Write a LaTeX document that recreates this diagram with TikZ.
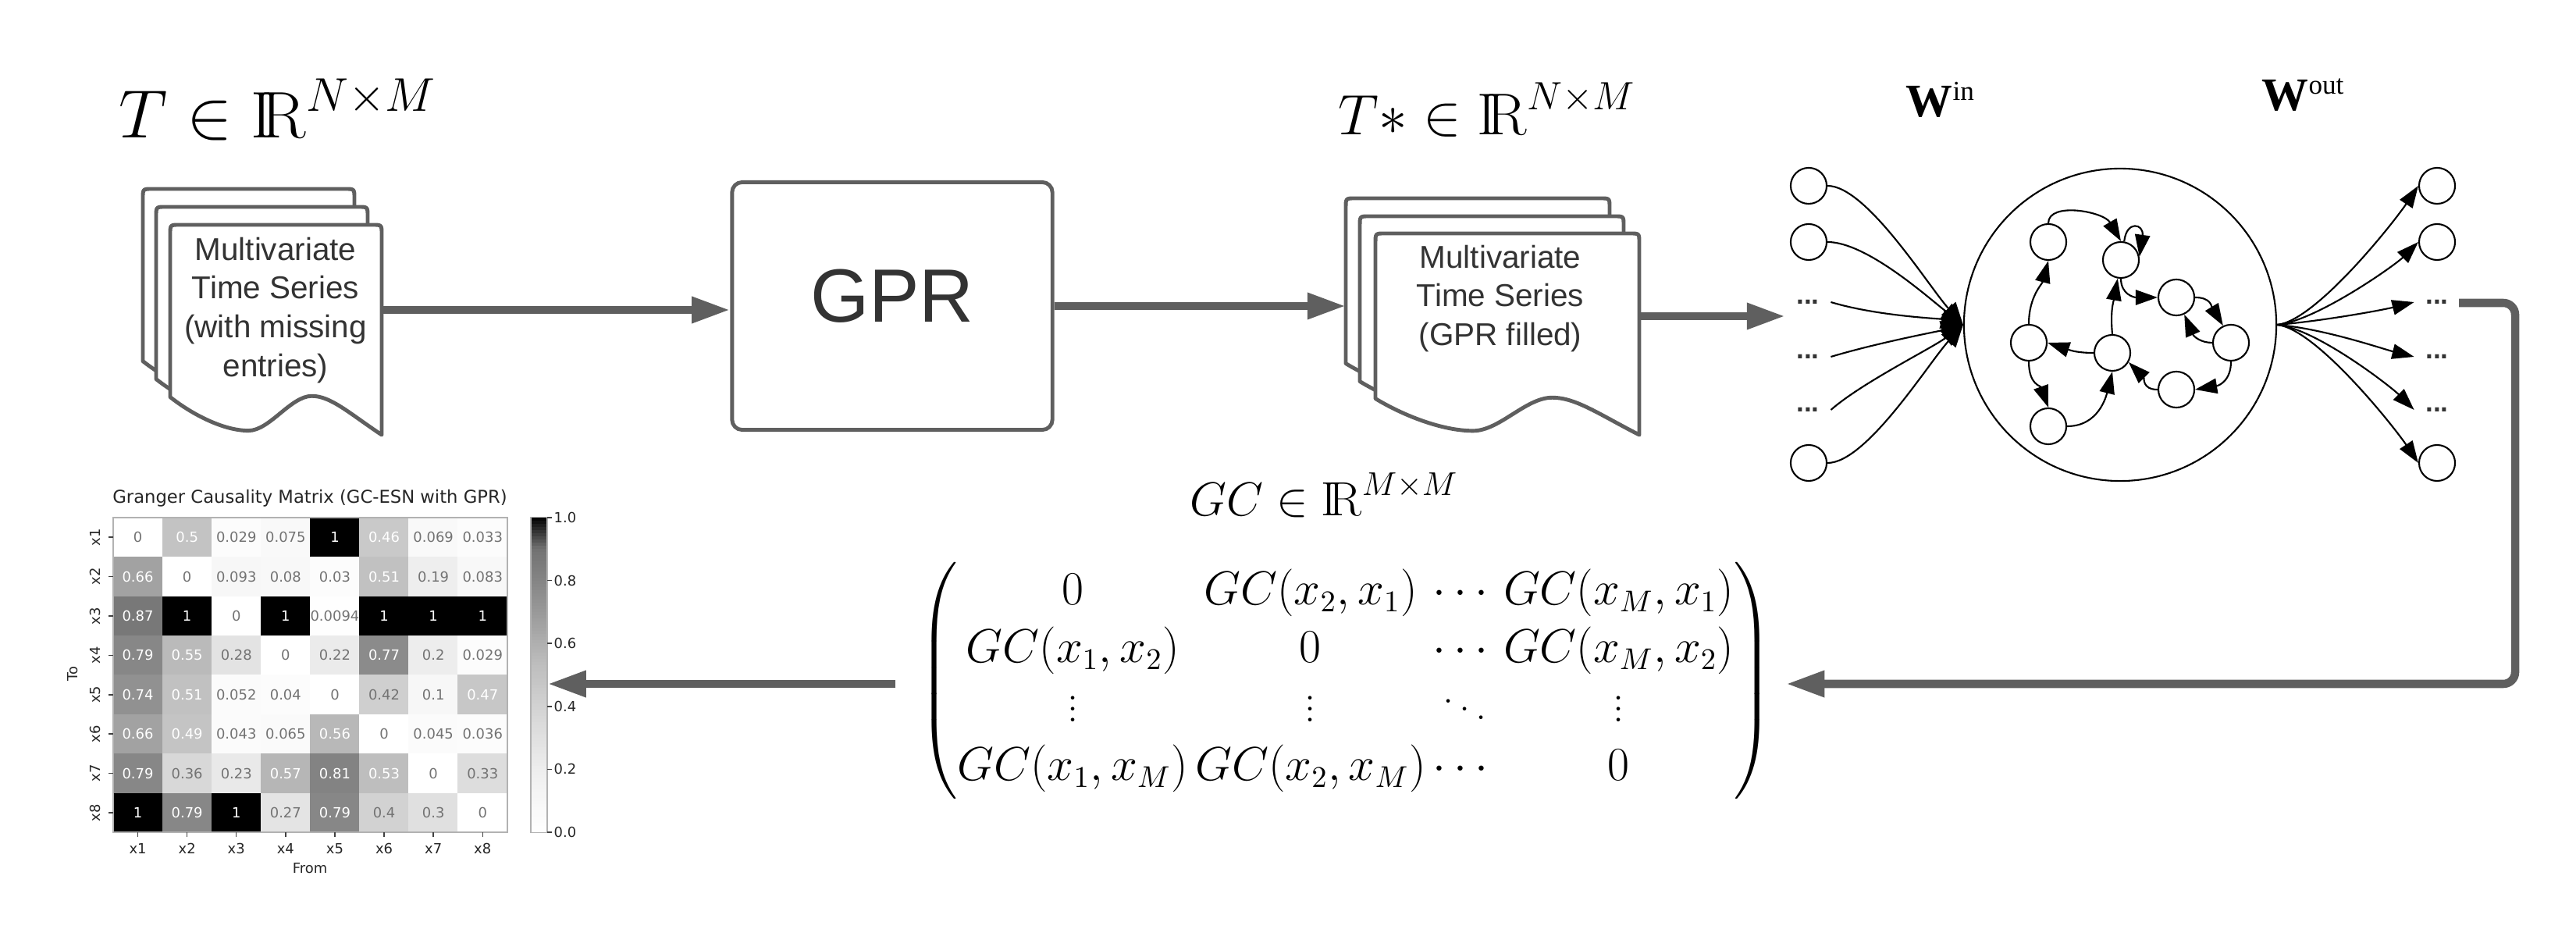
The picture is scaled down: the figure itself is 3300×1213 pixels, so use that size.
\documentclass[tikz,border=0pt]{standalone}
\usepackage{amsmath,amssymb}
\usepackage{fontspec}
\newfontfamily\arialf{Liberation Sans}
\newfontfamily\timesf{Liberation Serif}
\newfontfamily\hmfont{DejaVu Sans}
\usetikzlibrary{arrows.meta}
\definecolor{gline}{HTML}{5F5F5F}
\definecolor{gtext}{HTML}{333333}
\newcommand\IRR{\mathrm{I\!R}}
\newcommand\docpage[4]{%
 \filldraw[docline] (#1,#2+0.82*#4) -- (#1,#2+12) .. controls (#1,#2) .. (#1+12,#2)
  -- (#1+#3-12,#2) .. controls (#1+#3,#2) .. (#1+#3,#2+12) -- (#1+#3,#2+#4)
  .. controls (#1+0.85*#3,#2+0.9*#4) and (#1+0.76*#3,#2+0.815*#4) .. (#1+0.67*#3,#2+0.815*#4)
  .. controls (#1+0.57*#3,#2+0.815*#4) and (#1+0.47*#3,#2+0.98*#4) .. (#1+0.37*#3,#2+0.98*#4)
  .. controls (#1+0.25*#3,#2+0.98*#4) and (#1+0.1*#3,#2+0.9*#4) .. cycle;}
\newcommand\hmdark[1]{%
 \pgfmathsetmacro\hmt{min(0.7*#1,0.6999)}%
 \pgfmathtruncatemacro\hmk{floor(\hmt*8)}%
 \pgfmathsetmacro\hmf{max(0,\hmt*8-\hmk)}%
 \pgfmathtruncatemacro\hmkk{\hmk+1}%
 \pgfmathsetmacro\hma{{0,5.9,14.9,25.9,41.2,54.9,67.8,85.5,100}[\hmk]}%
 \pgfmathsetmacro\hmb{{0,5.9,14.9,25.9,41.2,54.9,67.8,85.5,100}[\hmkk]}%
 \pgfmathsetmacro\hmdd{\hma*(1-\hmf)+\hmb*\hmf}%
 \pgfmathsetmacro\hmde{(#1>0.9) ? (55.4+446*(#1-0.9)) : \hmdd}%
 \pgfmathsetmacro\hmd{max(0,min(100,round(\hmde*10)/10))}%
}
\begin{document}
\begin{tikzpicture}[x=0.01cm,y=-0.01cm,
  docline/.style={draw=gline,fill=white,line width=1.4pt,line join=round},
  doctext/.style={font=\arialf\fontsize{11.5}{14.2}\selectfont,text=gtext,align=center,inner sep=0pt},
  gbox/.style={draw=gline,fill=white,line width=1.4pt,rounded corners=3.7pt,minimum width=116.7pt,minimum height=90.2pt,inner sep=0pt},
  gl/.style={draw=gline,line width=3pt,-{Triangle[length=14pt,width=9pt]}},
  neur/.style={circle,draw=black,fill=white,line width=0.6pt,minimum size=13.1pt,inner sep=0pt},
  dotn/.style={font=\arialf\bfseries\fontsize{10}{12}\selectfont,text=gtext,inner xsep=4pt,inner ysep=1pt},
  ea/.style={draw=black,line width=0.6pt,-{Triangle[length=8pt,width=5.5pt]}},
  eain/.style={draw=black,line width=0.6pt,-{Triangle[length=8pt,width=7pt]}},
  hmnum/.style={font=\hmfont\fontsize{5.1}{6}\selectfont,inner sep=0pt},
  hmlab/.style={font=\hmfont\fontsize{5.1}{6}\selectfont,text=black!85,inner sep=0pt},
  hmtick/.style={draw=black!75,line width=0.4pt}]
\useasboundingbox (0,0) rectangle (3300,1213);

% ---------- input documents ----------
\docpage{183}{242}{271}{269}
\docpage{200}{265}{271}{269}
\docpage{218}{288}{271}{269}
\node[doctext,anchor=north] (d1t) at (353,303) {Multivariate\\Time Series\\(with missing\\entries)};
\coordinate (d1e) at (489,397);
\node[anchor=base west,inner sep=0pt,font=\fontsize{24}{29}\selectfont] (tlab) at (152,177) {$T \in \IRR^{N\times M}$};

% ---------- GPR ----------
\node[gbox] (gpr) at (1143,392) {};
\node[font=\arialf\fontsize{27.5}{33}\selectfont,text=gtext,anchor=base,inner sep=0pt] (gprt) at (1143,413) {GPR};

% ---------- filled documents ----------
\docpage{1724}{254}{338}{258}
\docpage{1742}{277}{338}{258}
\docpage{1762}{299}{338}{258}
\node[doctext,anchor=north] (d2t) at (1922,313) {Multivariate\\Time Series\\(GPR filled)};
\coordinate (d2w) at (1724,392);
\coordinate (d2e) at (2100,405);
\coordinate (esnin) at (2287,405);
\node[anchor=base west,inner sep=0pt,font=\fontsize{21.5}{26}\selectfont] (tslab) at (1714,173) {$T* \in \IRR^{N\times M}$};

\draw[gl] (d1e) -- (d1e -| gpr.west);
\draw[gl] (gpr.east) -- (gpr.east -| d2w);
\draw[gl] (d2e) -- (esnin);

% ---------- ESN ----------
\node[anchor=base west,inner sep=0pt,font=\timesf] (win) at (2441,150) {{\fontsize{17}{20}\selectfont\bfseries W}\raisebox{6pt}{\fontsize{10}{12}\selectfont in}};
\node[anchor=base west,inner sep=0pt,font=\timesf] (wout) at (2897,142) {{\fontsize{17}{20}\selectfont\bfseries W}\raisebox{6pt}{\fontsize{10}{12}\selectfont out}};

\node[neur] (i1) at (2317,238) {};
\node[neur] (i2) at (2317,310) {};
\node[dotn] (id1) at (2316,387) {...};
\node[dotn] (id2) at (2316,457) {...};
\node[dotn] (id3) at (2316,525) {...};
\node[neur] (i6) at (2317,593) {};

\node[neur] (o1) at (3122,238) {};
\node[neur] (o2) at (3122,310) {};
\node[dotn] (od1) at (3122,387) {...};
\node[dotn] (od2) at (3122,457) {...};
\node[dotn] (od3) at (3122,525) {...};
\node[neur] (o6) at (3122,593) {};

\node[circle,draw=black,line width=0.6pt,minimum size=113.8pt,inner sep=0pt] (res) at (2716,416) {};
\node[neur] (rA) at (2624,310) {};
\node[neur] (rB) at (2717,333) {};
\node[neur] (rC) at (2788,381) {};
\node[neur] (rD) at (2858,439) {};
\node[neur] (rE) at (2599,439) {};
\node[neur] (rF) at (2706,452) {};
\node[neur] (rG) at (2788,499) {};
\node[neur] (rH) at (2624,546) {};

\draw[eain] (i1.east) .. controls +(50,0) and +(-45,-50) .. (res.west);
\draw[eain] (i2.east) .. controls +(50,0) and +(-45,-35) .. (res.west);
\draw[eain] (id1.east) .. controls +(60,18) and +(-30,-8) .. (res.west);
\draw[eain] (id2.east) .. controls +(60,-18) and +(-30,8) .. (res.west);
\draw[eain] (id3.east) .. controls +(40,-35) and +(-40,30) .. (res.west);
\draw[eain] (i6.east) .. controls +(50,0) and +(-45,50) .. (res.west);

\draw[ea] (res.east) .. controls +(50,-5) and +(-30,45) .. (o1.west);
\draw[ea] (res.east) .. controls +(50,-5) and +(-30,30) .. (o2.west);
\draw[ea] (res.east) .. controls +(60,-5) and +(-40,10) .. (od1.west);
\draw[ea] (res.east) .. controls +(60,5) and +(-40,-10) .. (od2.west);
\draw[ea] (res.east) .. controls +(50,5) and +(-30,-30) .. (od3.west);
\draw[ea] (res.east) .. controls +(50,5) and +(-30,-45) .. (o6.west);

\draw[ea] (rA.north) .. controls +(0,-28) and +(-22,-38) .. (rB.north);
\draw[ea] (rB.80) .. controls +(3,-28) and +(6,-42) .. (rB.10);
\draw[ea] (rB.south) .. controls +(0,20) and +(-30,0) .. (rC.west);
\draw[ea] (rC.east) .. controls +(20,0) and +(-15,-25) .. (rD.115);
\draw[ea] (rD.west) .. controls +(-15,0) and +(12,28) .. (rC.-65);
\draw[ea] (rD.south) .. controls +(0,25) and +(30,-5) .. (rG.east);
\draw[ea] (rG.west) .. controls +(-20,0) and +(20,20) .. (rF.-30);
\draw[ea] (rF.north) .. controls +(-3,-30) and +(-5,28) .. (rB.-100);
\draw[ea] (rF.west) .. controls +(-20,0) and +(30,10) .. (rE.east);
\draw[ea] (rE.north) .. controls +(0,-35) and +(-8,30) .. (rA.south);
\draw[ea] (rE.south) .. controls +(0,30) and +(-10,-28) .. (rH.north);
\draw[ea] (rH.east) .. controls +(40,0) and +(-8,32) .. (rF.south);

% ---------- GC matrix ----------
\node[anchor=base west,inner sep=0pt,font=\fontsize{17.5}{21}\selectfont] (gclab) at (1524,660) {$GC \in \IRR^{M\times M}$};
\node[inner sep=0pt,font=\fontsize{16}{19.2}\selectfont] (gcm) at (1724,872) {\setlength{\arraycolsep}{1.3pt}\renewcommand{\arraystretch}{1.1}$\begin{pmatrix}
0 & GC(x_2,x_1) & \cdots & GC(x_M,x_1)\\
GC(x_1,x_2) & 0 & \cdots & GC(x_M,x_2)\\
\vdots & \vdots & \ddots & \vdots\\
GC(x_1,x_M) & GC(x_2,x_M) & \cdots & 0
\end{pmatrix}$};
\coordinate (outr) at (3150,388);
\coordinate (gcr) at (2288,876);
\coordinate (gcl) at (1147,876);
\draw[gl,rounded corners=4.3pt] (outr) -- ++(72,0) |- (gcr);

% ---------- heatmap ----------
\def\hmx{145}\def\hmy{663}\def\hmcw{63.1}\def\hmch{50.4}
\foreach \row [count=\r] in {{0,0.5,0.029,0.075,1,0.46,0.069,0.033},{0.66,0,0.093,0.08,0.03,0.51,0.19,0.083},{0.87,1,0,1,0.0094,1,1,1},{0.79,0.55,0.28,0,0.22,0.77,0.2,0.029},{0.74,0.51,0.052,0.04,0,0.42,0.1,0.47},{0.66,0.49,0.043,0.065,0.56,0,0.045,0.036},{0.79,0.36,0.23,0.57,0.81,0.53,0,0.33},{1,0.79,1,0.27,0.79,0.4,0.3,0}}{
  \foreach \v [count=\c] in \row {
    \hmdark{\v}
    \ifdim \v pt>0.45pt \def\hmtc{white}\else\def\hmtc{black!55}\fi
    \fill[black!\hmd] ({\hmx+\hmcw*(\c-1)-0.3},{\hmy+\hmch*(\r-1)-0.3}) rectangle ({\hmx+\hmcw*\c+0.3},{\hmy+\hmch*\r+0.3});
    \node[hmnum,text=\hmtc] at ({\hmx+\hmcw*(\c-0.5)},{\hmy+\hmch*(\r-0.5)}) {\v};
  }
}
\draw[black!30,line width=0.3pt] (145,663) rectangle (650,1066);
\foreach \k in {1,...,8} {
  \draw[hmtick] (139,{663+50.4*(\k-0.5)}) -- (145,{663+50.4*(\k-0.5)});
  \node[hmlab,rotate=90] at (122,{663+50.4*(\k-0.5)}) {x\k};
  \draw[hmtick] ({145+63.1*(\k-0.5)},1066) -- ({145+63.1*(\k-0.5)},1072);
  \node[hmlab] at ({145+63.1*(\k-0.5)},1087) {x\k};
}
\node[hmlab,rotate=90] (tolab) at (93,863) {To};
\node[hmlab] (fromlab) at (397,1112) {From};
\node[font=\hmfont\fontsize{6.45}{8}\selectfont,text=black!85,inner sep=0pt] (hmtitle) at (397,638) {Granger Causality Matrix (GC-ESN with GPR)};

% colorbar
\foreach \i in {0,...,99} {
  \pgfmathsetmacro\cv{(\i+0.5)/100}
  \hmdark{\cv}
  \fill[black!\hmd] (680,{1066-4.03*(\i+1)-0.6}) rectangle (701,{1066-4.03*\i});
}
\node[draw=black!30,line width=0.3pt,inner sep=0pt,minimum width=5.97pt,minimum height=114.66pt] (cbar) at (690.5,864.5) {};
\foreach \t/\lab in {0/0.0,0.2/0.2,0.4/0.4,0.6/0.6,0.8/0.8,1/1.0} {
  \draw[hmtick] (701,{1066-403*\t}) -- (707,{1066-403*\t});
  \node[hmlab,anchor=west] at (709,{1066-403*\t}) {\lab};
}
\draw[gl] (gcl) -- (gcl -| cbar.east);
\end{tikzpicture}
\end{document}
